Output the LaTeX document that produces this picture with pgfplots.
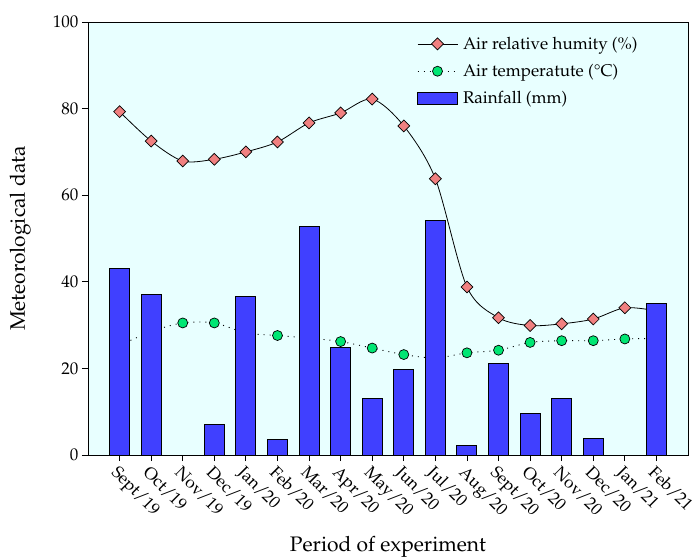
\documentclass[border=0pt]{standalone}
\usepackage[T1]{fontenc}
\usepackage{mathpazo}
\usepackage{pgfplots}
\pgfplotsset{compat=1.18}
\definecolor{bgc}{RGB}{232,255,255}
\definecolor{barc}{RGB}{64,64,255}
\definecolor{humc}{RGB}{240,128,128}
\definecolor{tmpc}{RGB}{0,230,115}
\pgfplotsset{
  linelegend/.style={legend image code/.code={\draw[mark repeat=2,mark phase=2,##1] plot coordinates {(0pt,0pt) (20pt,0pt) (40pt,0pt)};}},
  barlegend/.style={legend image code/.code={\draw[##1] (0pt,-6pt) rectangle (40pt,6pt);}},
}
\begin{document}
\begin{tikzpicture}
\begin{axis}[name=ax,
  scale only axis, width=600pt, height=433pt,
  clip mode=individual,
  xmin=-1, xmax=18, ymin=0, ymax=100,
  xtick={0,...,17},
  xticklabels={Sept/19,Oct/19,Nov/19,Dec/19,Jan/20,Feb/20,Mar/20,Apr/20,May/20,Jun/20,Jul/20,Aug/20,Sept/20,Oct/20,Nov/20,Dec/20,Jan/21,Feb/21},
  ytick={0,20,...,100},
  tick align=outside, xtick pos=bottom, ytick pos=left,
  major tick length=6pt,
  tick style={black, line width=0.8pt},
  axis line style={line width=0.8pt},
  axis background/.style={fill=bgc},
  tick label style={font=\fontsize{17}{20}\selectfont},
  x tick label style={rotate=-45, anchor=north west, inner sep=2.5pt},
  label style={font=\fontsize{21}{24}\selectfont},
  xlabel={Period of experiment},
  ylabel={Meteorological data},
  xlabel style={at={(axis description cs:0.5,-0.212)}, anchor=center},
  ylabel style={at={(axis description cs:-0.113,0.5)}, anchor=center},
  legend style={draw=none, fill=none, at={(0.543,0.975)}, anchor=north west,
    font=\fontsize{17}{20}\selectfont, row sep=9.5pt,
    nodes={inner xsep=5pt}},
  legend cell align=left,
]
\addplot[smooth, black, line width=0.8pt, mark=square*, mark size=4.2pt,
  mark options={rotate=45, fill=humc, draw=black, line width=0.7pt}, linelegend]
  coordinates {(0,79.3) (1,72.5) (2,67.9) (3,68.3) (4,70.0) (5,72.3) (6,76.7) (7,79.0) (8,82.2) (9,76.0) (10,63.8) (11,38.8) (12,31.7) (13,29.9) (14,30.3) (15,31.4) (16,34.0) (17,33.3)};
\addlegendentry{Air relative humity (\%)}
\addplot[smooth, black, line width=0.9pt, dash pattern=on 1pt off 5pt, mark=*, mark size=5pt,
  mark options={solid, fill=tmpc, draw=black, line width=0.7pt}, linelegend]
  coordinates {(0,25.3) (1,28.5) (2,30.5) (3,30.5) (4,28.2) (5,27.6) (6,27.0) (7,26.2) (8,24.7) (9,23.2) (10,22.4) (11,23.6) (12,24.2) (13,26.0) (14,26.4) (15,26.4) (16,26.8) (17,26.9)};
\addlegendentry{Air temperatute (\textdegree C)}
\addplot[ybar, bar width=20pt, fill=barc, draw=black, line width=1pt, barlegend]
  coordinates {(0,43.0) (1,37.1) (3,7.1) (4,36.6) (5,3.5) (6,52.8) (7,24.9) (8,13.1) (9,19.8) (10,54.1) (11,2.3) (12,21.2) (13,9.7) (14,13.1) (15,3.9) (17,35.0)};
\addlegendentry{Rainfall (mm)}
\end{axis}
\pgfresetboundingbox
\path[use as bounding box] (ax.south west) ++(-88pt,-103pt) rectangle ++(695pt,558pt);
\end{tikzpicture}
\end{document}
